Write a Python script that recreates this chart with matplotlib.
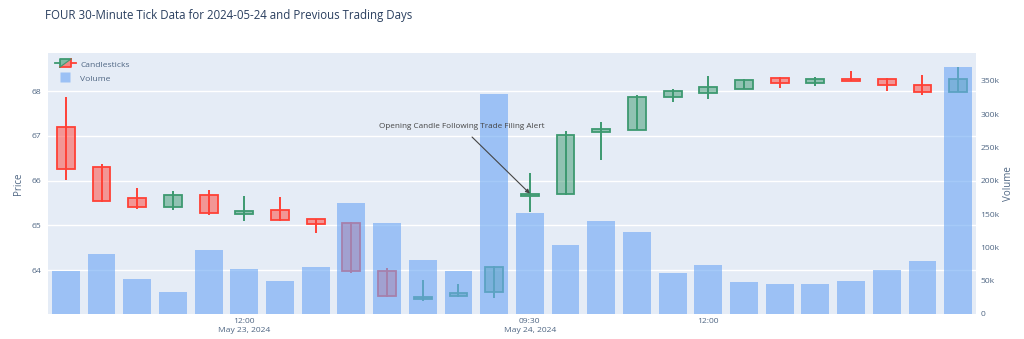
import matplotlib
matplotlib.use("Agg")
import matplotlib.pyplot as plt
import numpy as np
from matplotlib.legend_handler import HandlerBase
from matplotlib.patches import Rectangle, Polygon
from matplotlib.lines import Line2D
from matplotlib.ticker import FuncFormatter

plt.rcParams['font.family'] = ['Open Sans', 'DejaVu Sans']

# ---- data ----
times = ["09:30", "10:00", "10:30", "11:00", "11:30", "12:00", "12:30", "13:00", "13:30",
         "14:00", "14:30", "15:00", "15:30"] * 2
dates = ["2024-05-23"] * 13 + ["2024-05-24"] * 13
opens = [67.20, 66.30, 65.60, 65.41, 65.67, 65.25, 65.35, 65.14, 65.06, 63.97, 63.36, 63.42, 63.52,
         65.65, 65.69, 67.08, 67.14, 67.87, 67.96, 68.05, 68.30, 68.18, 68.28, 68.26, 68.14, 67.98]
highs = [67.86, 66.38, 65.84, 65.77, 65.79, 65.66, 65.64, 65.15, 65.08, 64.04, 63.78, 63.69, 64.10,
         66.16, 67.11, 67.30, 67.91, 68.05, 68.34, 68.28, 68.31, 68.32, 68.45, 68.30, 68.36, 68.54]
lows = [66.01, 65.53, 65.37, 65.34, 65.24, 65.10, 65.10, 64.82, 63.93, 63.39, 63.31, 63.40, 63.37,
        65.29, 65.68, 66.46, 67.13, 67.75, 67.82, 68.04, 68.06, 68.12, 68.23, 68.01, 67.92, 67.98]
closes = [66.25, 65.55, 65.40, 65.68, 65.27, 65.33, 65.11, 65.03, 63.98, 63.42, 63.41, 63.50, 64.06,
          65.71, 67.02, 67.16, 67.87, 68.01, 68.10, 68.25, 68.19, 68.27, 68.23, 68.14, 67.98, 68.27]
volumes = [64600, 89700, 53000, 32600, 95700, 68000, 49000, 70600, 166700, 136000, 81000, 64600, 330500,
           151000, 103600, 139000, 122600, 61000, 73000, 48600, 45000, 44600, 50000, 66000, 80000, 371500]
tick_positions = [5, 13, 18]
tick_labels = ["12:00\nMay 23, 2024", "09:30\nMay 24, 2024", "12:00"]
annotation_text = "Opening Candle Following Trade Filing Alert"
annotation_index = 13

INC = "#3D9970"
DEC = "#FF4136"
BG = "#E5ECF6"
TXT = "#506784"
VOLC = "#6fa8f5"
FS = 6.1

fig = plt.figure(figsize=(10.24, 3.39), dpi=100)
ax = fig.add_axes([48/1024, 25/339, 928/1024, 261/339])
ax.set_facecolor(BG)
for s in ax.spines.values():
    s.set_visible(False)

x = np.arange(len(opens))
for i in x:
    o, h, l, c = opens[i], highs[i], lows[i], closes[i]
    col = INC if c >= o else DEC
    ax.vlines(i, l, h, color=col, lw=1.4, zorder=2)
    lo_b, hi_b = min(o, c), max(o, c)
    ax.add_patch(Rectangle((i - 0.25, lo_b), 0.5, max(hi_b - lo_b, 0.01),
                           facecolor=col, alpha=0.5, edgecolor='none', zorder=3))
    ax.add_patch(Rectangle((i - 0.25, lo_b), 0.5, max(hi_b - lo_b, 0.01),
                           facecolor='none', edgecolor=col, lw=1.3, zorder=4))

ax.set_xlim(-0.5, len(opens) - 0.5)
ax.set_ylim(63.02, 68.85)
ax.set_yticks([64, 65, 66, 67, 68])
ax.grid(axis='y', color='white', lw=1.0)
ax.set_axisbelow(True)
ax.tick_params(axis='y', length=0, labelsize=FS, labelcolor=TXT, pad=5)
ax.set_xticks(tick_positions)
ax.set_xticklabels(tick_labels, linespacing=1.4)
ax.tick_params(axis='x', length=0, labelsize=FS, labelcolor=TXT, pad=3)
ax.set_ylabel("Price", fontsize=7, color=TXT, labelpad=5)

ax2 = ax.twinx()
for s in ax2.spines.values():
    s.set_visible(False)
bars = ax2.bar(x, volumes, width=0.78, color=VOLC, alpha=0.62, zorder=5)
ax2.set_ylim(0, 392000)
ax2.set_yticks(np.arange(0, 350001, 50000))
ax2.yaxis.set_major_formatter(FuncFormatter(lambda v, p: "0" if v == 0 else f"{int(v/1000)}k"))
ax2.tick_params(axis='y', length=0, labelsize=FS, labelcolor=TXT, pad=3)
ax2.set_ylabel("Volume", fontsize=7, color=TXT, labelpad=3)

ax2.annotate(annotation_text,
             xy=(annotation_index, closes[annotation_index]), xycoords=ax.transData,
             xytext=(11.09, 67.2), textcoords=ax.transData,
             ha='center', va='center', fontsize=5.9, color="#444444",
             arrowprops=dict(arrowstyle='-|>', color="#444444", lw=0.8,
                             mutation_scale=6, shrinkA=4, shrinkB=0), zorder=10)


class CandleHandler(HandlerBase):
    def create_artists(self, legend, orig_handle, xdescent, ydescent, width, height, fontsize, trans):
        w, h = width, height
        x0, x1 = w * 0.22, w * 0.78
        y0, y1 = -0.05 * h, h * 1.05
        arts = []
        arts.append(Line2D([0, x0], [h / 2, h / 2], color=INC, lw=1.3, transform=trans))
        arts.append(Line2D([x1, w], [h / 2, h / 2], color=DEC, lw=1.3, transform=trans))
        arts.append(Polygon([[x0, y0], [x0, y1], [x1, y1]], closed=True, facecolor=INC, alpha=0.6,
                            edgecolor='none', transform=trans))
        arts.append(Polygon([[x0, y0], [x1, y0], [x1, y1]], closed=True, facecolor=DEC, alpha=0.6,
                            edgecolor='none', transform=trans))
        arts.append(Line2D([x0, x0, x1], [y0, y1, y1], color=INC, lw=1.3, transform=trans))
        arts.append(Line2D([x0, x1, x1], [y0, y0, y1], color=DEC, lw=1.3, transform=trans))
        arts.append(Line2D([x0, x1], [y0, y1], color=INC, lw=0.8, transform=trans))
        return arts


candle_handle = object()
vol_handle = Line2D([], [], linestyle='none', marker='s', markersize=6.5,
                    markerfacecolor=VOLC, markeredgecolor='none', alpha=0.62)
leg = ax2.legend([candle_handle, vol_handle], ["Candlesticks", "Volume"],
                 handler_map={type(candle_handle): CandleHandler()},
                 loc='upper left', bbox_to_anchor=(0.0, 1.0), frameon=False,
                 fontsize=FS, labelcolor=TXT, handlelength=2.4, handleheight=1.0,
                 handletextpad=0.55, borderaxespad=0.45, labelspacing=0.6)
leg.set_zorder(20)

fig.text(45/1024, 1 - 16/339, "FOUR 30-Minute Tick Data for 2024-05-24 and Previous Trading Days",
         fontsize=8.3, color="#2a3f5f", ha='left', va='center')

fig.savefig("out.png", dpi=100)
